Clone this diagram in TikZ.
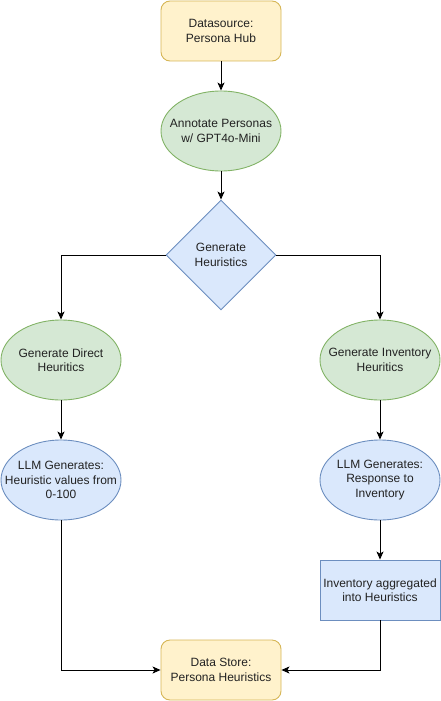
\documentclass[tikz,border=0pt]{standalone}
\usepackage{fontspec}
\setmainfont{Liberation Sans}
\usetikzlibrary{shapes.geometric,arrows.meta}
\definecolor{yfill}{HTML}{FFF2CC}\definecolor{ydraw}{HTML}{D6B656}
\definecolor{gfill}{HTML}{D5E8D4}\definecolor{gdraw}{HTML}{82B366}
\definecolor{bfill}{HTML}{DAE8FC}\definecolor{bdraw}{HTML}{6C8EBF}
\definecolor{txt}{HTML}{222222}
\begin{document}
\begin{tikzpicture}[x=1pt,y=-1pt,line width=0.9pt,
  base/.style={inner sep=0pt,align=center,text=txt,font=\fontsize{12}{14.4}\selectfont},
  store/.style={base,draw=ydraw,fill=yfill,rounded corners=9pt,minimum width=120pt,minimum height=60pt},
  gell/.style={ellipse,inner sep=0pt,draw=gdraw,fill=gfill,minimum width=120pt,minimum height=80pt,label={[base]center:#1}},
  bell/.style={ellipse,inner sep=0pt,draw=bdraw,fill=bfill,minimum width=120pt,minimum height=80pt,label={[base]center:#1}},
  bbox/.style={base,draw=bdraw,fill=bfill,minimum width=120pt,minimum height=60pt},
  dec/.style={base,diamond,draw=bdraw,fill=bfill,minimum width=110pt,minimum height=110pt},
  conn/.style={draw=black,-{Stealth[length=8pt,width=7pt,inset=2pt]}}]
\useasboundingbox (0,0) rectangle (441,701);
\node[store] (src) at (221,31) {Datasource:\\Persona Hub};
\node[gell={Annotate Personas\\w/ GPT4o-Mini}] (ann) at (221,131) {};
\node[dec] (gen) at (221,255) {Generate\\Heuristics};
\node[gell={Generate Direct\\Heuritics}] (dir) at (61,360) {};
\node[gell={Generate Inventory\\Heuritics}] (inv) at (380,360) {};
\node[bell={LLM Generates:\\Heuristic values from\\0-100}] (llml) at (61,480) {};
\node[bell={LLM Generates:\\Response to\\Inventory}] (llmr) at (380,480) {};
\node[bbox] (agg) at (380,590) {Inventory aggregated\\into Heuristics};
\node[store] (out) at (221,670) {Data Store:\\Persona Heuristics};
\draw[conn] (src) -- (ann);
\draw[conn] (ann) -- (gen);
\draw[conn] (gen.west) -| (dir.north);
\draw[conn] (gen.east) -| (inv.north);
\draw[conn] (dir) -- (llml);
\draw[conn] (inv) -- (llmr);
\draw[conn] (llmr) -- (agg);
\draw[conn] (llml.south) |- (out.west);
\draw[conn] (agg.south) |- (out.east);
\end{tikzpicture}
\end{document}
